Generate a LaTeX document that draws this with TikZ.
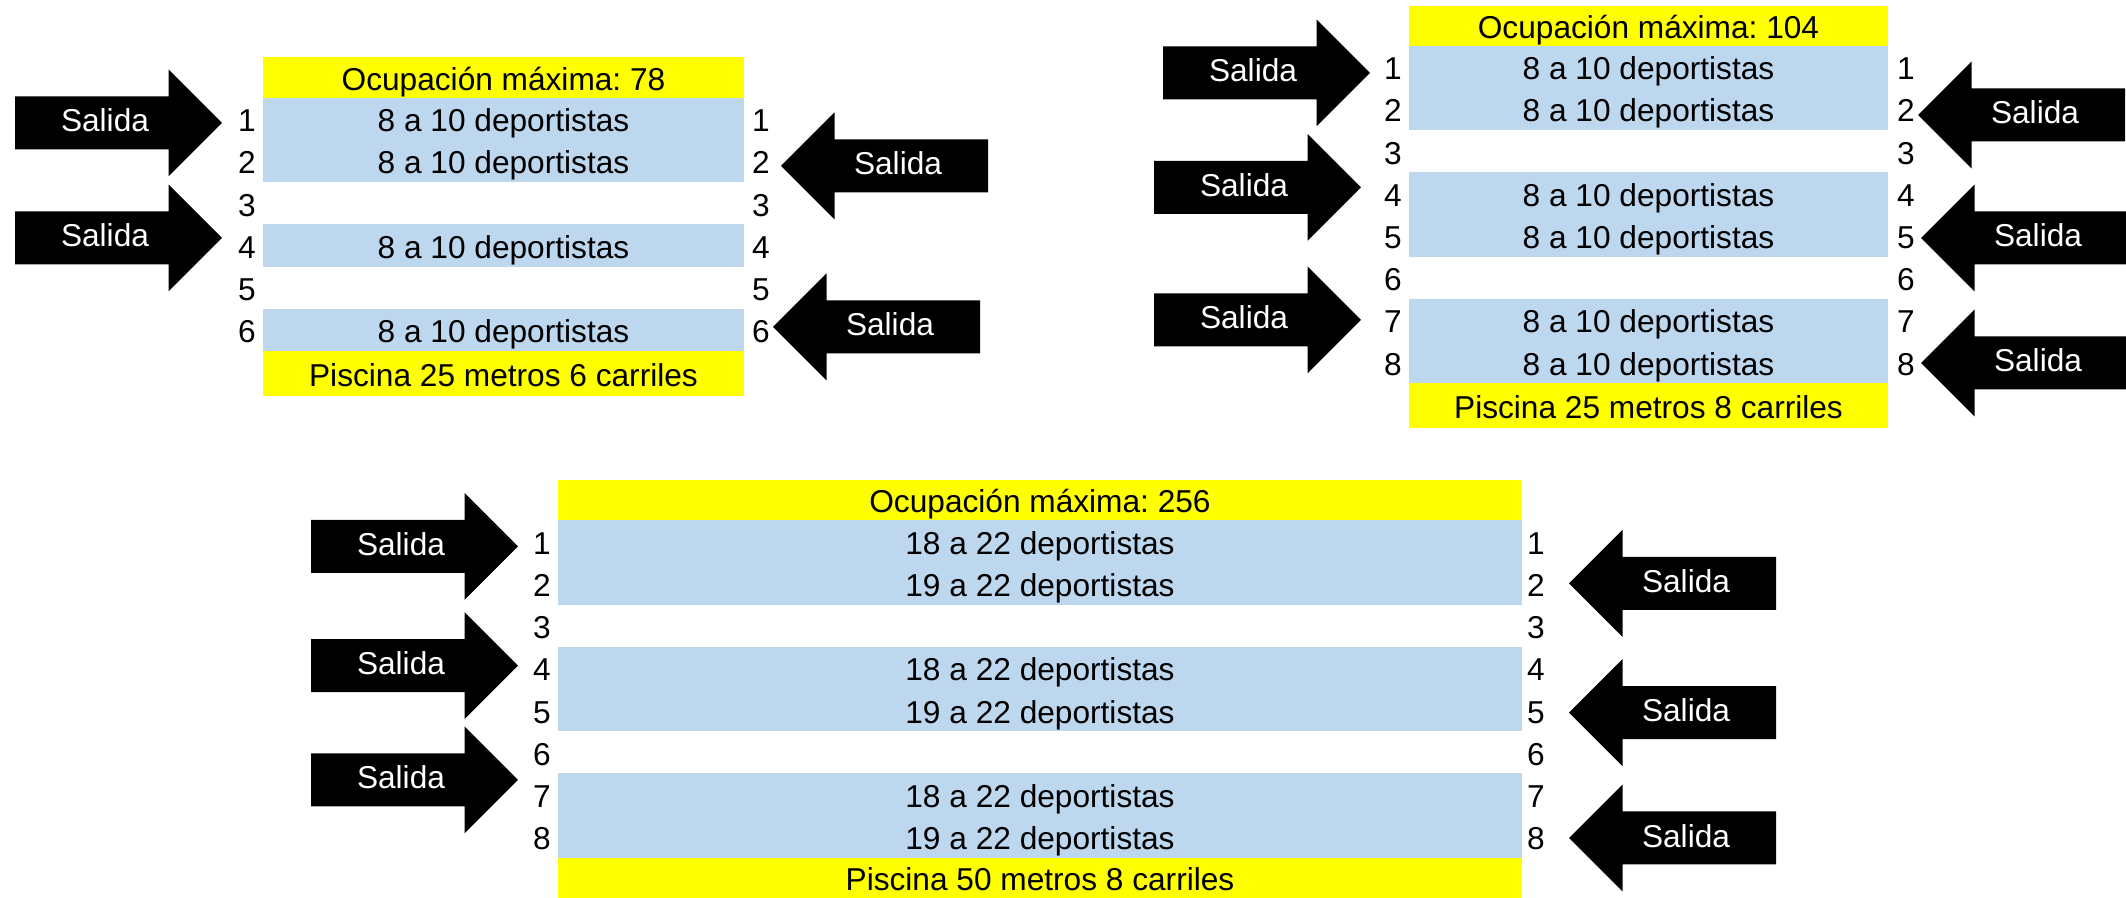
\documentclass[tikz,border=0pt]{standalone}
\usepackage{fontspec}
\setmainfont{Liberation Sans}
\usetikzlibrary{positioning}
\frenchspacing

\definecolor{carril}{HTML}{BDD7EE}
\definecolor{rotulo}{HTML}{FFFF00}

\begin{document}
\begin{tikzpicture} [x=0.01cm, y=-0.01cm,
        every node/.style={font=\fontsize{9}{11}\selectfont, inner sep=0pt, text height=0.30cm, text depth=0.04cm},
        cartel/.style={fill=rotulo, minimum width=#1},
        carrilazul/.style={fill=carril, minimum width=#1, minimum height=0.423cm},
        salida/.style={text=white}]
            \useasboundingbox (0,0) rectangle (2126,898);

            % piscina 25 metros, 6 carriles
            \node[cartel=4.81cm, minimum height=0.402cm] (tlhead) at (503.5, 77.6) {Ocupación máxima: 78};
            \foreach \k in {1,2,4,6}
                \node[carrilazul=4.81cm] (tllane\k) at (503.5, 97.7+42.2*\k-21.1) {8 a 10 deportistas};
            \node[cartel=4.81cm, minimum height=0.448cm] (tlfoot) at (503.5, 373.3) {Piscina 25 metros 6 carriles};
            \foreach \k in {1,...,6} {
                \node (tlleft\k) at (247, 97.7+42.2*\k-21.1) {\k};
                \node (tlright\k) at (761, 97.7+42.2*\k-21.1) {\k};
            }

            % piscina 25 metros, 8 carriles
            \node[cartel=4.79cm, minimum height=0.397cm] (trhead) at (1648.5, 25.9) {Ocupación máxima: 104};
            \foreach \k in {1,2,4,5,7,8}
                \node[carrilazul=4.79cm] (trlane\k) at (1648.5, 45.7+42.2*\k-21.1) {8 a 10 deportistas};
            \node[cartel=4.79cm, minimum height=0.45cm] (trfoot) at (1648.5, 405.8) {Piscina 25 metros 8 carriles};
            \foreach \k in {1,...,8} {
                \node (trleft\k) at (1393, 45.7+42.2*\k-21.1) {\k};
                \node (trright\k) at (1906, 45.7+42.2*\k-21.1) {\k};
            }

            % piscina 50 metros, 8 carriles
            \node[cartel=9.63cm, minimum height=0.40cm] (bhead) at (1040, 500) {Ocupación máxima: 256};
            \foreach \k/\n in {1/18,2/19,4/18,5/19,7/18,8/19}
                \node[carrilazul=9.63cm] (blane\k) at (1040, 520+42.25*\k-21.1) {\n\ a 22 deportistas};
            \node[cartel=9.63cm, minimum height=0.40cm] (bfoot) at (1040, 878) {Piscina 50 metros 8 carriles};
            \foreach \k in {1,...,8} {
                \node (bleft\k) at (542, 520+42.25*\k-21.1) {\k};
                \node (bright\k) at (1536, 520+42.25*\k-21.1) {\k};
            }

            % flechas de salida
            \foreach \x/\y [count=\i] in {222/123, 222/238, 1370/73, 1361/187.5, 1361/320, 518/546.5, 518/665.7, 518/780} {
                \fill (\x,\y) -- ++(-53.5,-53.5) -- ++(0,27) -- ++(-153.5,0) -- ++(0,53) -- ++(153.5,0) -- ++(0,27) -- cycle;
                \node[salida] (salidaizq\i) at (\x-117,\y-4) {Salida};
            }
            \foreach \x/\y [count=\i] in {781/166, 773/327, 1918/115, 1921/238, 1921/363, 1569/583.3, 1569/712.7, 1569/838} {
                \fill (\x,\y) -- ++(53.5,-53.5) -- ++(0,27) -- ++(153.5,0) -- ++(0,53) -- ++(-153.5,0) -- ++(0,27) -- cycle;
                \node[salida] (salidader\i) at (\x+117,\y-4) {Salida};
            }
        \end{tikzpicture}
\end{document}
